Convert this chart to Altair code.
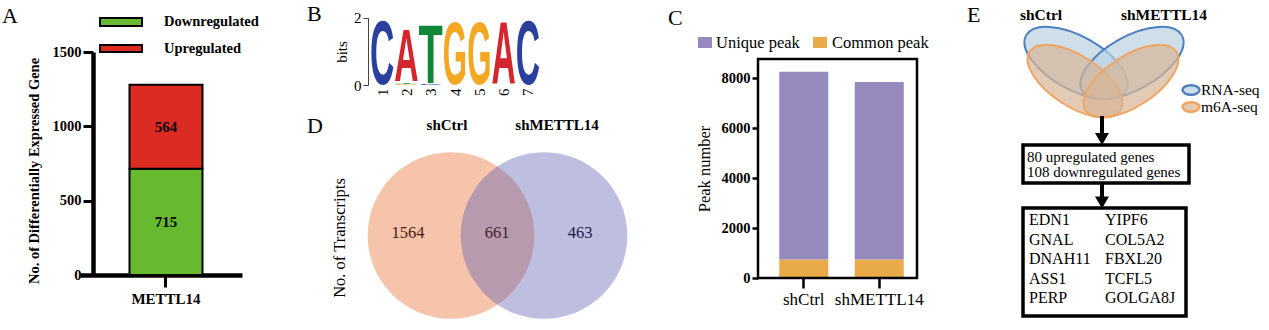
import urllib.parse
import altair as alt
import pandas as pd

W, H = 1269, 330
SERIF = "Liberation Serif"
SANS = "Liberation Sans"

# ---------------- data ----------------
# Panel A: differentially expressed genes
a_samples = ["METTL14"]
a_groups = ["Downregulated", "Upregulated"]
a_values = [715, 564]
a_colors = ["#67BA30", "#DC2B23"]
a_ticks = [0, 500, 1000, 1500]
a_ytitle = "No. of Differentially Expressed Gene"

# Panel B: motif logo (stacked bottom -> top per position)
b_pos = [1, 2, 2, 2, 3, 3, 4, 5, 6, 7]
b_letter = ["C", "G", "T", "A", "C", "T", "G", "G", "A", "C"]
b_bits = [2.00, 0.04, 0.04, 1.65, 0.03, 1.85, 1.96, 1.96, 1.96, 2.00]
b_ticks = [0, 1, 2]
b_positions = [1, 2, 3, 4, 5, 6, 7]
b_ytitle = "bits"

# Panel C: peaks
c_samples = ["shCtrl", "shMETTL14"]
c_groups = ["Unique peak", "Common peak"]
c_unique = [7510, 7100]
c_common = [740, 740]
c_colors = ["#9589BD", "#E9AA4A"]
c_ticks = [0, 2000, 4000, 6000, 8000]
c_ytitle = "Peak number"

# Panel D: Venn of transcripts
d_sets = ["shCtrl", "shMETTL14"]
d_counts = [1564, 661, 463]
d_ytitle = "No. of Transcripts"

# Panel E: integration scheme
e_sets = ["shCtrl", "shMETTL14"]
e_tracks = ["RNA-seq", "m6A-seq"]
e_summary = ["80 upregulated genes", "108 downregulated genes"]
e_genes_left = ["EDN1", "GNAL", "DNAH11", "ASS1", "PERP"]
e_genes_right = ["YIPF6", "COL5A2", "FBXL20", "TCFL5", "GOLGA8J"]

panel_letters = ["A", "B", "C", "D", "E"]

# ---------------- styles / layout ----------------
LETTER_COLORS = {"A": "#D5262D", "C": "#2B3F9E", "G": "#F4A720", "T": "#12873A"}
LETTER_ADV = {"A": 72.2, "C": 72.2, "G": 77.8, "T": 61.1}


def glyph_url(letter):
    adv = LETTER_ADV[letter]
    svg = (
        f'<svg xmlns="http://www.w3.org/2000/svg" width="{adv}" height="74.5" '
        f'viewBox="0 27 {adv} 74.5" preserveAspectRatio="none">'
        f'<text x="0" y="100" font-family="{SANS}, Arial, sans-serif" font-weight="bold" '
        f'font-size="100" fill="{LETTER_COLORS[letter]}">{letter}</text></svg>'
    )
    return "data:image/svg+xml;charset=utf-8," + urllib.parse.quote(svg)


def canvas_x(field="x"):
    return alt.X(f"{field}:Q", scale=alt.Scale(domain=[0, W], range=[0, W], nice=False, zero=False), axis=None)


def canvas_y(field="y"):
    return alt.Y(f"{field}:Q", scale=alt.Scale(domain=[0, H], range=[0, H], nice=False, zero=False), axis=None)


def text_layer(texts, xs, ys, size, weight="normal", align="center", baseline="middle",
               angle=0, colors=None, font=SERIF):
    df = pd.DataFrame({"t": texts, "x": xs, "y": ys,
                       "c": colors if colors is not None else ["black"] * len(texts)})
    return alt.Chart(df).mark_text(
        font=font, fontSize=size, fontWeight=weight, align=align, baseline=baseline, angle=angle
    ).encode(x=canvas_x(), y=canvas_y(), text="t:N", color=alt.Color("c:N", scale=None))


def axis_style(**kw):
    base = dict(title=None, grid=False, labelColor="black", domainColor="black", tickColor="black",
                labelFont=SERIF, labelOverlap=False, labelFlush=False)
    base.update(kw)
    return alt.Axis(**base)


layers = []

# ================= Panel A =================
a_df = pd.DataFrame({"sample": a_samples * len(a_groups), "group": a_groups,
                     "value": a_values, "order": list(range(len(a_groups)))})
A_X0, A_X1, A_Y0, A_Y1, A_AXIS_X = 80, 242, 275, 52, 93
a_xscale = alt.Scale(type="band", domain=a_samples, range=[A_X0, A_X1], paddingInner=0, paddingOuter=0.1,
                     align=0.685)
a_yscale = alt.Scale(domain=[0, 1500], range=[A_Y0, A_Y1], nice=False, zero=False)

layers.append(
    alt.Chart(a_df).mark_bar(size=73, stroke="black", strokeWidth=2).encode(
        x=alt.X("sample:N", scale=a_xscale,
                axis=axis_style(orient="bottom", offset=-(H - A_Y0), labelAngle=0, labelFontWeight="bold",
                                labelFontSize=15, labelPadding=4, domainWidth=4.5, tickWidth=3, tickSize=12)),
        y=alt.Y("value:Q", stack="zero", scale=a_yscale,
                axis=axis_style(orient="left", offset=-A_AXIS_X, values=a_ticks, format="d",
                                labelFontWeight="bold", labelFontSize=14.5, labelPadding=2, domainWidth=4.5,
                                tickWidth=3, tickSize=10)),
        color=alt.Color("group:N", scale=alt.Scale(domain=a_groups, range=a_colors), legend=None),
        order=alt.Order("order:Q"),
    )
)
layers.append(
    alt.Chart(a_df)
    .transform_stack(stack="value", groupby=["sample"], as_=["v0", "v1"], sort=[alt.SortField("order")])
    .transform_calculate(mid="(datum.v0 + datum.v1) / 2")
    .mark_text(font=SERIF, fontSize=15, fontWeight="bold", color="black")
    .encode(x=alt.X("sample:N", scale=a_xscale, axis=None),
            y=alt.Y("mid:Q", scale=a_yscale, axis=None), text="value:Q")
)
# legend A
a_leg = pd.DataFrame({"group": a_groups, "x0": [100, 100], "x1": [142, 142], "y0": [18, 45], "y1": [26, 52]})
layers.append(
    alt.Chart(a_leg).mark_rect(stroke="black", strokeWidth=2).encode(
        x=canvas_x("x0"), x2="x1:Q", y=canvas_y("y0"), y2="y1:Q",
        color=alt.Color("group:N", scale=alt.Scale(domain=a_groups, range=a_colors), legend=None))
)
layers.append(text_layer(a_groups, [164, 164], [22, 49], 14.5, weight="bold", align="left"))
layers.append(text_layer([a_ytitle], [35], [171], 14.5, weight="bold", angle=270))

# ================= Panel B =================
b_df = pd.DataFrame({"pos": b_pos, "letter": b_letter, "bits": b_bits})
b_df["order"] = list(range(len(b_df)))
b_df["url"] = [glyph_url(l) for l in b_letter]
B_Y0, B_Y2, B_AXIS_X = 85, 17.7, 368
b_xscale = alt.Scale(domain=[0.5, 7.5], range=[370, 540], nice=False, zero=False)
b_yscale = alt.Scale(domain=[0, 2], range=[B_Y0, B_Y2], nice=False, zero=False)
layers.append(
    alt.Chart(b_df)
    .transform_stack(stack="bits", groupby=["pos"], as_=["b0", "b1"], sort=[alt.SortField("order")])
    .transform_calculate(x0="datum.pos - 0.5", x1="datum.pos + 0.5")
    .mark_image(aspect=False)
    .encode(
        x=alt.X("x0:Q", scale=b_xscale,
                axis=axis_style(orient="bottom", offset=-(H - B_Y0), values=b_positions, format="d",
                                labelAngle=270, domain=False, ticks=False, labelPadding=3, labelFontSize=15)),
        x2="x1:Q",
        y=alt.Y("b0:Q", scale=b_yscale,
                axis=axis_style(orient="left", offset=-B_AXIS_X, values=b_ticks, format="d", labelFontSize=15,
                                labelPadding=2, domainWidth=1, tickWidth=1, tickSize=5, domainColor="#444",
                                tickColor="#444")),
        y2="b1:Q",
        url="url:N",
    )
)
layers.append(text_layer([b_ytitle], [342], [52], 15, angle=270))

# ================= Panel C =================
c_df = pd.DataFrame({
    "sample": c_samples * 2,
    "group": [c_groups[1]] * len(c_samples) + [c_groups[0]] * len(c_samples),
    "value": c_common + c_unique,
    "order": [0] * len(c_samples) + [1] * len(c_samples),
})
C_X0, C_X1, C_Y0, C_Y1 = 758, 917, 278, 59
c_xscale = alt.Scale(type="band", domain=c_samples, range=[766, C_X1], paddingInner=0, paddingOuter=0)
c_yscale = alt.Scale(domain=[0, 8760], range=[C_Y0, C_Y1], nice=False, zero=False)
layers.append(
    alt.Chart(c_df).mark_bar(size=49).encode(
        x=alt.X("sample:N", scale=c_xscale,
                axis=axis_style(orient="bottom", offset=-(H - C_Y0), labelAngle=0, labelFontSize=17,
                                labelPadding=3, domain=False, tickWidth=2.5, tickSize=10)),
        y=alt.Y("value:Q", stack="zero", scale=c_yscale,
                axis=axis_style(orient="left", offset=-C_X0, values=c_ticks, format="d",
                                labelFontWeight="bold", labelFontSize=14.5, labelPadding=2, domain=False,
                                tickWidth=2.5, tickSize=6)),
        color=alt.Color("group:N", scale=alt.Scale(domain=c_groups, range=c_colors), legend=None),
        order=alt.Order("order:Q"),
    )
)
c_frame = pd.DataFrame({"x0": [C_X0], "x1": [C_X1], "y0": [C_Y1], "y1": [C_Y0]})
layers.append(
    alt.Chart(c_frame).mark_rect(filled=False, stroke="black", strokeWidth=2.5).encode(
        x=canvas_x("x0"), x2="x1:Q", y=canvas_y("y0"), y2="y1:Q")
)
c_leg = pd.DataFrame({"group": c_groups, "x0": [698, 813], "x1": [712, 827], "y0": [37, 37], "y1": [48, 48]})
layers.append(
    alt.Chart(c_leg).mark_rect().encode(
        x=canvas_x("x0"), x2="x1:Q", y=canvas_y("y0"), y2="y1:Q",
        color=alt.Color("group:N", scale=alt.Scale(domain=c_groups, range=c_colors), legend=None))
)
layers.append(text_layer(c_groups, [716, 832], [42.5, 42.5], 16.5, align="left"))
layers.append(text_layer([c_ytitle], [705], [169], 16.5, angle=270))

# ================= Panel D =================
D_R = 94
d_circ = pd.DataFrame({"set": d_sets, "x": [451, 544], "y": [235.5, 235.5]})
d_fill = {"shCtrl": ("#F5C4AA", 1.0), "shMETTL14": ("#5C5CB4", 0.4)}
for s in d_sets:
    col, op = d_fill[s]
    layers.append(
        alt.Chart(d_circ).transform_filter(alt.datum.set == s)
        .mark_circle(size=3.14159 * D_R * D_R, color=col, opacity=op)
        .encode(x=canvas_x(), y=canvas_y())
    )
layers.append(text_layer(d_sets, [447, 557], [125, 125], 15, weight="bold"))
layers.append(text_layer([str(v) for v in d_counts], [408, 497, 580], [233, 233, 233], 16.5,
                         colors=["#4A1D12", "#3F1E2C", "#1C1C48"]))
layers.append(text_layer([d_ytitle], [340], [238], 16.5, angle=270))

# ================= Panel E =================
ELLIPSE = "M -1 0 A 1 0.47 0 1 1 1 0 A 1 0.47 0 1 1 -1 0 Z"
ELLIPSE_LEG = "M -1 0 A 1 0.55 0 1 1 1 0 A 1 0.55 0 1 1 -1 0 Z"
e_fill = ["#B9D2E1", "#D7B496"]
e_stroke = ["#4F7FBF", "#F2A460"]
e_layout = {  # track -> (x list, y list, angle list, size list)
    "RNA-seq": ([1076, 1132], [63, 63], [29, 331], [114 ** 2, 114 ** 2]),
    "m6A-seq": ([1075, 1131], [81, 81], [33, 327], [108 ** 2, 108 ** 2]),
}
for i, tr in enumerate(e_tracks):
    xs, ys, angs, szs = e_layout[tr]
    e_df = pd.DataFrame({"set": e_sets, "x": xs, "y": ys, "ang": angs, "sz": szs})
    layers.append(
        alt.Chart(e_df).mark_point(shape=ELLIPSE, filled=True, opacity=1, fillOpacity=0.7, strokeWidth=2,
                                   fill=e_fill[i], stroke=e_stroke[i])
        .encode(x=canvas_x(), y=canvas_y(),
                angle=alt.Angle("ang:Q", scale=None), size=alt.Size("sz:Q", scale=None))
    )
e_leg = pd.DataFrame({"track": e_tracks, "x": [1191, 1191], "y": [90, 107]})
layers.append(
    alt.Chart(e_leg).mark_point(shape=ELLIPSE_LEG, filled=True, opacity=1, fillOpacity=0.7, strokeWidth=2.5,
                                size=17 * 17)
    .encode(x=canvas_x(), y=canvas_y(),
            fill=alt.Fill("track:N", scale=alt.Scale(domain=e_tracks, range=e_fill), legend=None),
            stroke=alt.Stroke("track:N", scale=alt.Scale(domain=e_tracks, range=e_stroke), legend=None))
)
layers.append(text_layer(e_tracks, [1201, 1201], [90, 107], 15.5, align="left"))
layers.append(text_layer(e_sets, [1041, 1164], [15, 15], 15.5, weight="bold"))

# arrows
e_arrows = pd.DataFrame({"x": [1102, 1102], "y0": [116, 182], "y1": [136, 200], "head": [139, 202.5]})
layers.append(
    alt.Chart(e_arrows).mark_rule(strokeWidth=4, color="black").encode(
        x=canvas_x(), y=canvas_y("y0"), y2="y1:Q")
)
layers.append(
    alt.Chart(e_arrows).mark_point(shape="M -1 -0.85 L 1 -0.85 L 0 0.85 Z", filled=True, opacity=1,
                                   color="black", size=196).encode(x=canvas_x(), y=canvas_y("head"))
)
# boxes
e_boxes = pd.DataFrame({"x0": [1023, 1023], "x1": [1189, 1186], "y0": [145, 208], "y1": [183, 316]})
layers.append(
    alt.Chart(e_boxes).mark_rect(fill="white", stroke="black", strokeWidth=3.5).encode(
        x=canvas_x("x0"), x2="x1:Q", y=canvas_y("y0"), y2="y1:Q")
)
layers.append(text_layer(e_summary, [1027, 1027], [157, 172], 15, align="left"))
rows_y = [220, 239.5, 259, 278.5, 298]
layers.append(text_layer(e_genes_left, [1029] * 5, rows_y, 16, align="left"))
layers.append(text_layer(e_genes_right, [1105] * 5, rows_y, 16, align="left"))

# panel letters
layers.append(text_layer(panel_letters, [2, 307, 668, 307, 967], [23, 21, 25, 133, 22], 22,
                         align="left", baseline="alphabetic"))

chart = (
    alt.layer(*layers)
    .resolve_scale(x="independent", y="independent", color="independent", fill="independent",
                   stroke="independent")
    .properties(width=W, height=H, padding=0, background="white",
                autosize=alt.AutoSizeParams(type="none"))
    .configure_view(stroke=None)
)

chart.save("out.html", embed_options={"renderer": "svg", "actions": False})
